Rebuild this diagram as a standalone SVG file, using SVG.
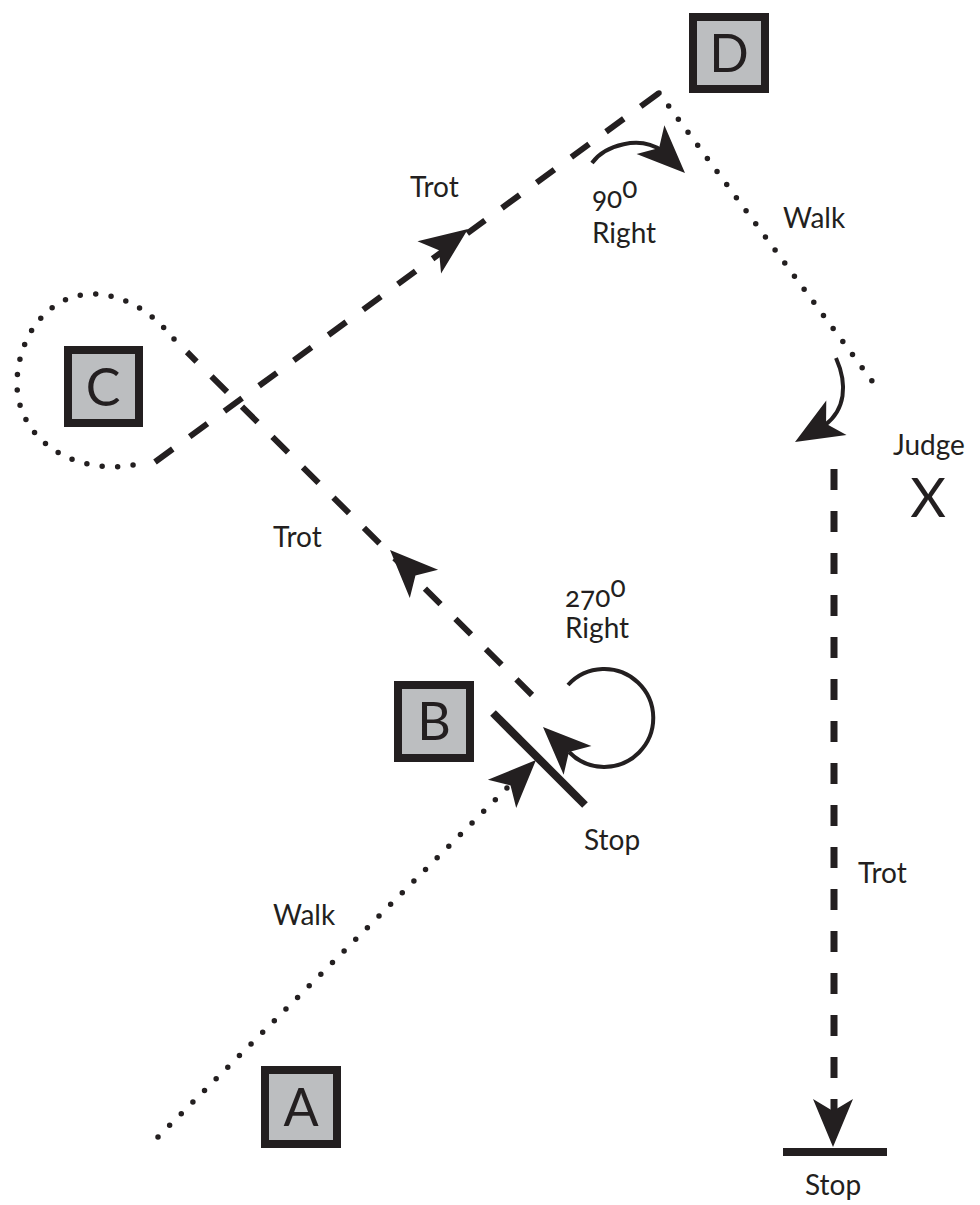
<svg xmlns="http://www.w3.org/2000/svg" xmlns:xlink="http://www.w3.org/1999/xlink" width="980" height="1205" viewBox="0 0 980 1205">
<style>
.box{fill:#bcbec0;stroke:#231f20;stroke-width:8}
.ltr{font-family:Lato,"Open Sans","Liberation Sans",sans-serif;font-size:52px;font-weight:400;fill:#231f20;text-anchor:middle}
.lbl{font-family:Lato,"Open Sans","Liberation Sans",sans-serif;font-size:28px;fill:#231f20;font-variant-numeric:oldstyle-nums}
.dash{fill:none;stroke:#231f20;stroke-width:6;stroke-dasharray:22 21}
.dot{fill:none;stroke:#231f20;stroke-width:5.5;stroke-linecap:round}
.curve{fill:none;stroke:#231f20;stroke-width:4}
.bar{stroke:#231f20;stroke-width:8}
.ah{fill:#231f20}
</style>
<defs>
<path id="ah" d="M0,0 L-48,-20 L-36,0 L-48,20 Z"/>
</defs>
<rect width="980" height="1205" fill="#fff"/>
<g id="connectors">
<path class="dash" d="M155,462 L659,93"/>
<path class="dash" d="M532,695 L187,352"/>
<path class="dash" d="M834,469 L834,1125" style="stroke-width:7;stroke-dasharray:21 21"/>
<path class="dot" d="M659,93 L872,381" style="stroke-dasharray:0 16.27"/>
<path class="dot" d="M158,1137 L507,788" style="stroke-dasharray:0 16.45"/>
<path class="dot" d="M174,339 C152,312 124,294 92,294 C45,295 17,340 17,384 C17,430 58,467 115,467 L141,464" style="stroke-dasharray:0 15.5"/>
<path class="curve" d="M592,163 C605,145 640,135 662,151"/>
<path class="curve" d="M836,358 C848,385 845,410 825,425"/>
<path class="curve" d="M568,685 A49,49 0 1 1 569,752"/>
<line class="bar" x1="493" y1="713" x2="585" y2="805"/>
<line class="bar" x1="783" y1="1152" x2="887" y2="1152"/>
<use class="ah" href="#ah" transform="translate(468,229) rotate(-36.2)"/>
<use class="ah" href="#ah" transform="translate(390,550) rotate(-135)"/>
<use class="ah" href="#ah" transform="translate(536,760) rotate(-45)"/>
<use class="ah" href="#ah" transform="translate(685,173) rotate(44)"/>
<use class="ah" href="#ah" transform="translate(543,727) rotate(224)"/>
<use class="ah" href="#ah" transform="translate(795,442) rotate(149.6)"/>
<use class="ah" href="#ah" transform="translate(833,1147) rotate(90)"/>
</g>
<g id="node-D"><rect class="box" x="693" y="17" width="72" height="72"/><text class="ltr" x="729" y="72">D</text></g>
<g id="node-C"><rect class="box" x="68" y="350" width="71" height="73"/><text class="ltr" x="103" y="406">C</text></g>
<g id="node-B"><rect class="box" x="398" y="685" width="72" height="73"/><text class="ltr" x="434" y="740">B</text></g>
<g id="node-A"><rect class="box" x="265" y="1070" width="72" height="74"/><text class="ltr" x="301" y="1126">A</text></g>
<g id="labels">
<text class="lbl" x="410" y="197">Trot</text>
<text class="lbl" x="592" y="208">90<tspan dy="-10">0</tspan></text>
<text class="lbl" x="592" y="243">Right</text>
<text class="lbl" x="783" y="228">Walk</text>
<text class="lbl" x="893" y="455">Judge</text>
<text class="ltr" x="928" y="517" style="font-size:55px">X</text>
<text class="lbl" x="273" y="547">Trot</text>
<text class="lbl" x="565" y="607">270<tspan dy="-10">0</tspan></text>
<text class="lbl" x="565" y="638">Right</text>
<text class="lbl" x="584" y="850">Stop</text>
<text class="lbl" x="273" y="925">Walk</text>
<text class="lbl" x="858" y="883">Trot</text>
<text class="lbl" x="805" y="1195">Stop</text>
</g>
</svg>
